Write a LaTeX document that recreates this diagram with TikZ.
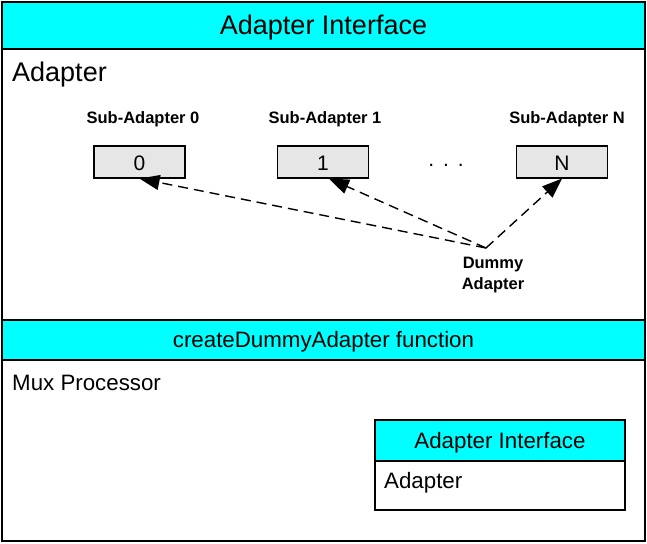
\documentclass[tikz,border=0pt]{standalone}
\usepackage{fontspec}
\setmainfont{Liberation Sans}
\usetikzlibrary{arrows.meta}
\definecolor{ifccyan}{HTML}{00FFFF}
\definecolor{subgray}{HTML}{E6E6E6}
\tikzset{
  frame/.style={draw=black, line width=1.4pt, inner sep=0pt, outer sep=0pt},
  header/.style={frame, fill=ifccyan},
  panel/.style={frame, fill=white},
  subbox/.style={draw=black, line width=1.1pt, fill=subgray, inner sep=0pt,
    minimum width=91pt, minimum height=32pt},
  boxtext/.style={font=\fontsize{21}{23}\selectfont, inner sep=0pt},
  sublabel/.style={font=\bfseries\fontsize{16.5}{19}\selectfont, inner sep=0pt},
  biglabel/.style={font=\fontsize{27}{30}\selectfont, inner sep=0pt},
  midlabel/.style={font=\fontsize{22.3}{25}\selectfont, inner sep=0pt},
  dasharrow/.style={line width=1.4pt, dash pattern=on 10pt off 6pt,
    -{Triangle[length=20pt,width=15pt]}}
}
\begin{document}
\begin{tikzpicture}[x=1pt,y=-1pt]
\useasboundingbox (0,0) rectangle (647,543);

% outer stack of panels
\node[header, minimum width=643pt, minimum height=47pt] (ifc) at (323.5,25.5) {};
\node[biglabel] (ifctext) at ([yshift=-2.5pt]ifc.center) {Adapter Interface};
\node[panel, minimum width=643pt, minimum height=271pt] (adp) at (323.5,184.5) {};
\node[biglabel, anchor=west] (adptext) at (12,75) {Adapter};
\node[header, minimum width=643pt, minimum height=40pt] (fn) at (323.5,340) {};
\node[midlabel] (fntext) at ([yshift=-2pt]fn.center) {createDummyAdapter function};
\node[panel, minimum width=643pt, minimum height=181pt] (mux) at (323.5,450.5) {};
\node[midlabel, anchor=west] (muxtext) at (12,383) {Mux Processor};

% nested adapter inside the mux processor
\node[header, line width=1.2pt, minimum width=250pt, minimum height=41pt] (iifc) at (500,440.5) {};
\node[midlabel] (iifctext) at ([yshift=-2pt]iifc.center) {Adapter Interface};
\node[panel, line width=1.2pt, minimum width=250pt, minimum height=49pt] (iadp) at (500,485.5) {};
\node[midlabel, anchor=west] (iadptext) at (384,483) {Adapter};

% sub-adapters
\node[sublabel] (l0) at (143,119) {Sub-Adapter 0};
\node[sublabel] (l1) at (325,119) {Sub-Adapter 1};
\node[sublabel] (lN) at (567,119) {Sub-Adapter N};
\node[subbox] (s0) at (139.5,162) {};
\node[subbox] (s1) at (323,162) {};
\node[subbox] (sN) at (562,162) {};
\node[boxtext] (t0) at ([yshift=-1pt]s0.center) {0};
\node[boxtext] (t1) at ([yshift=-1pt]s1.center) {1};
\node[boxtext] (tN) at ([yshift=-1pt]sN.center) {N};
\node[boxtext] (dots) at (446,165) {.\hspace{9pt}.\hspace{9pt}.};

% dummy adapter and its links
\coordinate (dummy) at (486,248);
\node[sublabel, align=center, font=\bfseries\fontsize{16.5}{21}\selectfont] (dlabel) at (493,275) {Dummy\\Adapter};
\draw[dasharrow] (dummy) -- (s0.south);
\draw[dasharrow] (dummy) -- ([xshift=6pt]s1.south);
\draw[dasharrow] (dummy) -- (sN.south);
\end{tikzpicture}
\end{document}
